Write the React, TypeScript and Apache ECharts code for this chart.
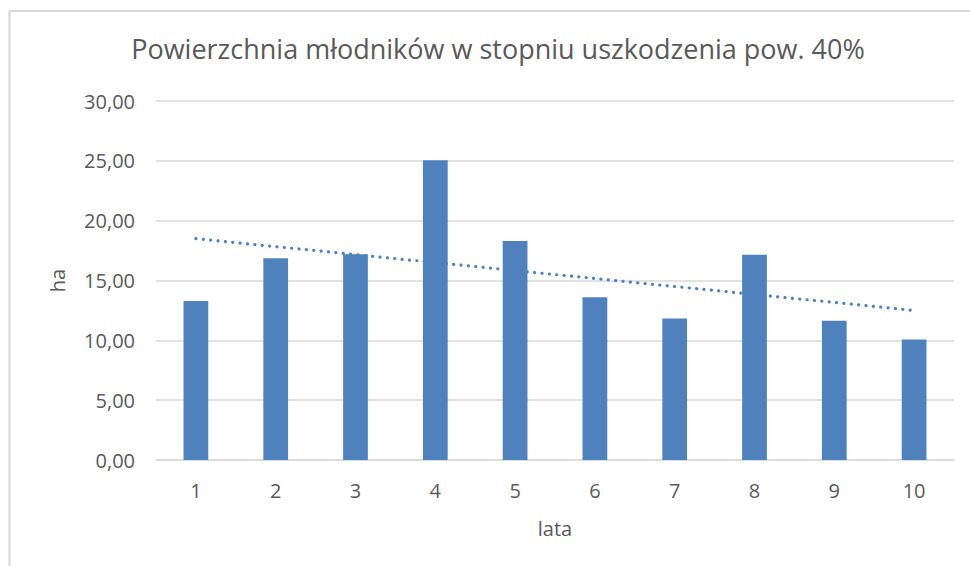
import React, { useEffect, useRef } from "react";
import * as echarts from "echarts";

const categories = ["1", "2", "3", "4", "5", "6", "7", "8", "9", "10"];
const values = [13.28, 16.85, 17.19, 25.05, 18.3, 13.61, 11.83, 17.15, 11.63, 10.07];
const yTicks = { min: 0, max: 30, interval: 5 };
const titleText = "Powierzchnia młodników w stopniu uszkodzenia pow. 40%";
const yName = "ha";
const xName = "lata";

// Linear (least-squares) trendline, as Excel computes it from the bar values
function linearTrend(ys: number[]): number[] {
  const n = ys.length;
  const xs = ys.map((_, i) => i + 1);
  const mx = xs.reduce((a, b) => a + b, 0) / n;
  const my = ys.reduce((a, b) => a + b, 0) / n;
  let sxy = 0;
  let sxx = 0;
  for (let i = 0; i < n; i++) {
    sxy += (xs[i] - mx) * (ys[i] - my);
    sxx += (xs[i] - mx) * (xs[i] - mx);
  }
  const b = sxy / sxx;
  const a = my - b * mx;
  return xs.map((x) => +(a + b * x).toFixed(4));
}

const FONT = "'Open Sans', sans-serif";
const TXT = "#595959";

export default function App() {
  const ref = useRef<HTMLDivElement>(null);
  useEffect(() => {
    if (!ref.current) return;
    const chart = echarts.init(ref.current, null, { renderer: "svg" });
    chart.setOption({
      animation: false,
      backgroundColor: "#ffffff",
      title: {
        text: titleText,
        left: 493,
        top: 30,
        textAlign: "center",
        textStyle: { color: TXT, fontFamily: FONT, fontSize: 27, fontWeight: "normal" },
      },
      graphic: [
        {
          type: "rect",
          shape: { x: 9.5, y: 11, width: 1000, height: 600 },
          style: { fill: "none", stroke: "#d9d9d9", lineWidth: 2 },
          silent: true,
          z: -10,
        },
      ],
      grid: { left: 156, right: 16, top: 101, bottom: 106, containLabel: false },
      xAxis: {
        type: "category",
        data: categories,
        name: xName,
        nameLocation: "middle",
        nameGap: 58,
        nameTextStyle: { color: TXT, fontFamily: FONT, fontSize: 20 },
        axisLine: { show: true, lineStyle: { color: "#d9d9d9", width: 1.5 } },
        axisTick: { show: false },
        axisLabel: { color: TXT, fontFamily: FONT, fontSize: 20, margin: 20 },
      },
      yAxis: {
        type: "value",
        min: yTicks.min,
        max: yTicks.max,
        interval: yTicks.interval,
        name: yName,
        nameLocation: "middle",
        nameGap: 89,
        nameTextStyle: { color: TXT, fontFamily: FONT, fontSize: 20 },
        axisLine: { show: false },
        axisTick: { show: false },
        splitLine: { lineStyle: { color: "#d9d9d9", width: 1.5 } },
        axisLabel: {
          color: TXT,
          fontFamily: FONT,
          fontSize: 20,
          margin: 21,
          formatter: (v: number) => v.toFixed(2).replace(".", ","),
        },
      },
      series: [
        {
          type: "bar",
          data: values,
          barWidth: "31%",
          itemStyle: { color: "#4f81bd" },
        },
        {
          type: "line",
          data: linearTrend(values),
          symbol: "none",
          lineStyle: { color: "#4f81bd", width: 3.2, type: [0.1, 7.3], cap: "round" },
          z: 5,
        },
      ],
    });
    return () => chart.dispose();
  }, []);
  return (
    <div
      ref={ref}
      style={{ position: "fixed", left: 0, top: 0, width: 970, height: 566, background: "#fff" }}
    />
  );
}
